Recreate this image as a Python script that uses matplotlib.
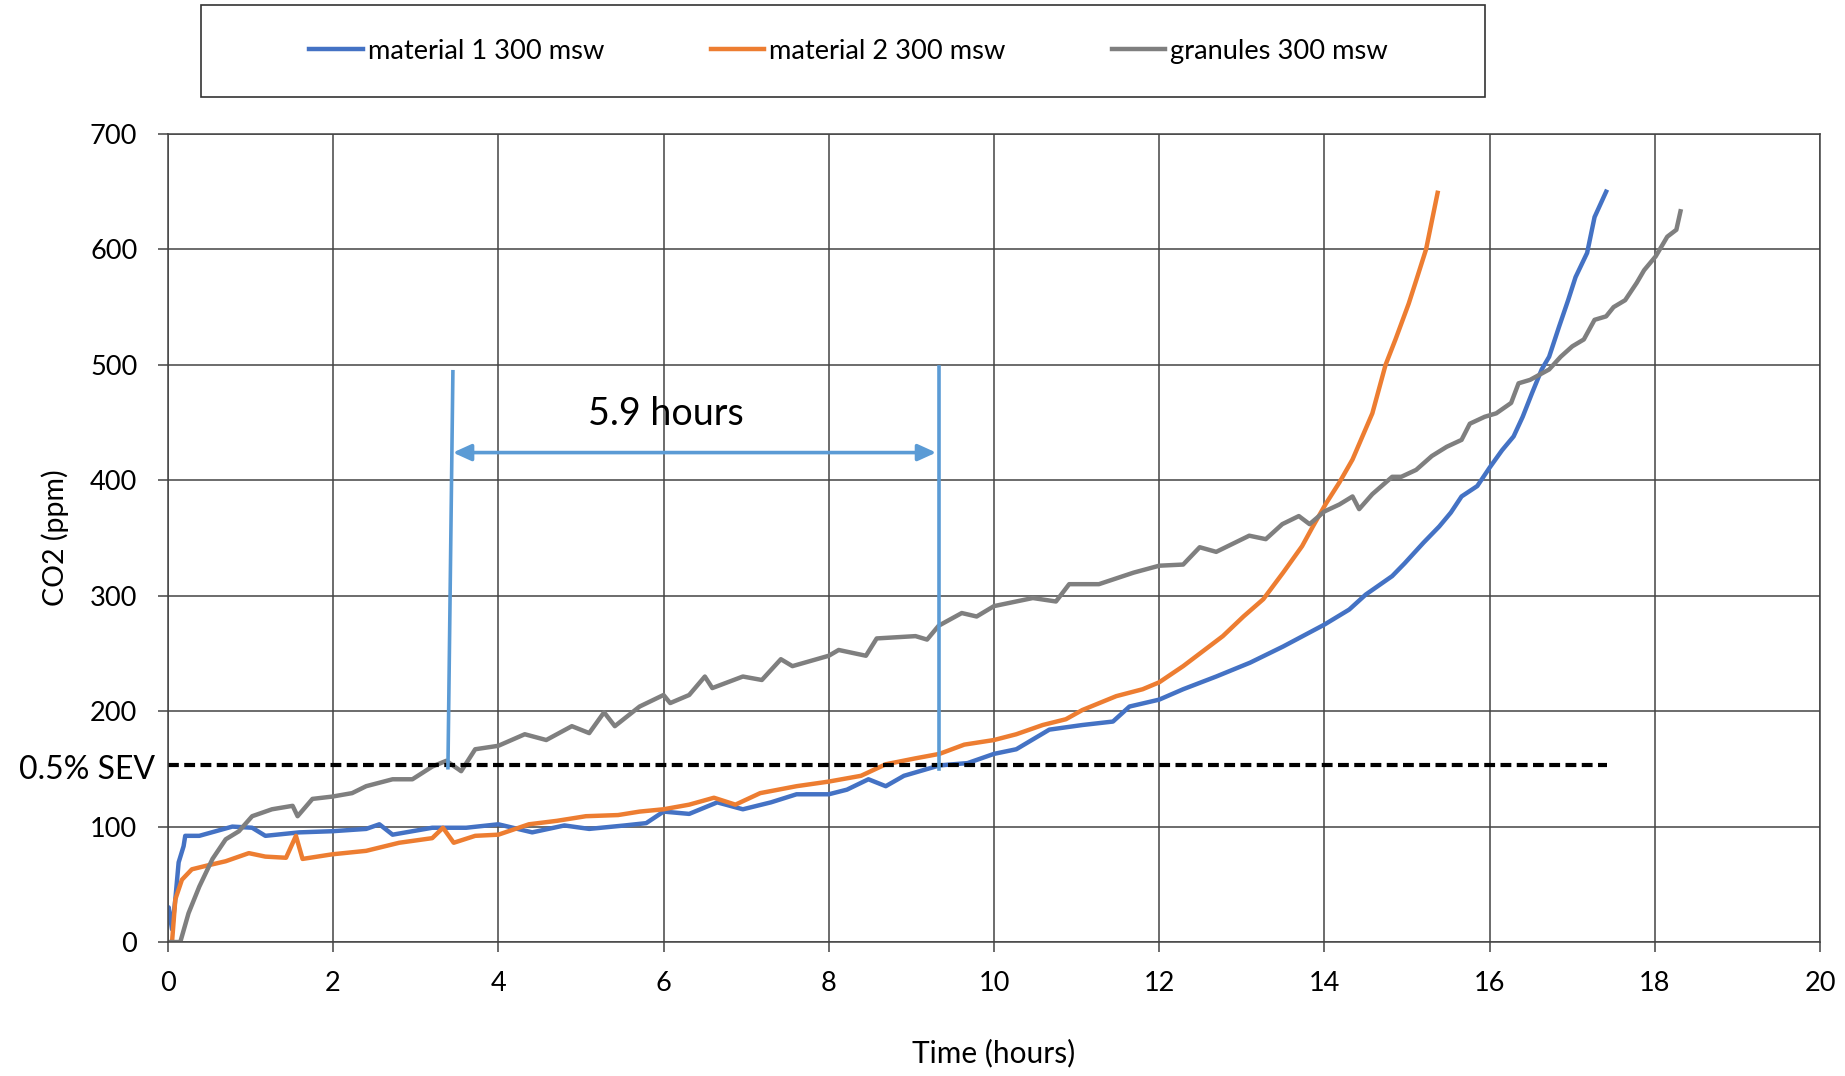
import matplotlib
matplotlib.use('Agg')
import matplotlib.pyplot as plt
from matplotlib.patches import Rectangle
import numpy as np

# material 1 300 msw (blue)
t_m1 = [0, 0.01, 0.05, 0.09, 0.13, 0.19, 0.21, 0.38, 0.58, 0.78, 1.02, 1.18, 1.59, 1.99, 2.40, 2.56,
        2.72, 3.20, 3.61, 4.0, 4.41, 4.80, 5.10, 5.53, 5.79, 6.0, 6.31, 6.65, 6.96, 7.30, 7.61, 8.0,
        8.22, 8.48, 8.69, 8.91, 9.34, 9.68, 10.0, 10.27, 10.67, 11.07, 11.44, 11.64, 12.0, 12.29,
        12.69, 13.10, 13.50, 14.0, 14.30, 14.50, 14.82, 14.97, 15.2, 15.39, 15.53, 15.66, 15.85,
        16.0, 16.15, 16.29, 16.40, 16.51, 16.63, 16.72, 16.84, 16.95, 17.04, 17.18, 17.27, 17.41]
co2_m1 = [22, 30, 11, 37, 69, 83, 92, 92, 96, 100, 99, 92, 95, 96, 98, 102,
          93, 99, 99, 102, 95, 101, 98, 101, 103, 113, 111, 121, 115, 121, 128, 128,
          132, 141, 135, 144, 153, 155, 163, 167, 184, 188, 191, 204, 210, 219,
          230, 242, 256, 275, 288, 301, 317, 328, 346, 360, 372, 386, 395,
          411, 426, 438, 455, 475, 496, 507, 533, 556, 576, 597, 628, 650]

# material 2 300 msw (orange)
t_m2 = [0.05, 0.09, 0.17, 0.29, 0.46, 0.70, 0.98, 1.18, 1.43, 1.55, 1.63, 1.99, 2.40, 2.80, 3.20,
        3.33, 3.46, 3.72, 4.0, 4.37, 4.71, 5.06, 5.45, 5.71, 6.0, 6.31, 6.61, 6.87, 7.17, 7.61,
        8.0, 8.39, 8.69, 9.04, 9.34, 9.64, 10.0, 10.27, 10.59, 10.87, 11.07, 11.48, 11.80, 12.0,
        12.29, 12.53, 12.77, 13.02, 13.26, 13.50, 13.73, 13.86, 14.02, 14.18, 14.34, 14.46,
        14.58, 14.74, 14.86, 15.02, 15.11, 15.23, 15.37]
co2_m2 = [0, 37, 54, 63, 66, 70, 77, 74, 73, 92, 72, 76, 79, 86, 90,
          99, 86, 92, 93, 102, 105, 109, 110, 113, 115, 119, 125, 119, 129, 135,
          139, 144, 154, 159, 163, 171, 175, 180, 188, 193, 201, 213, 219, 225,
          239, 252, 265, 282, 297, 320, 343, 360, 380, 398, 418, 438,
          458, 500, 522, 553, 573, 600, 649]

# granules 300 msw (grey)
t_gr = [0.0, 0.15, 0.25, 0.38, 0.54, 0.70, 0.86, 1.02, 1.26, 1.51, 1.57, 1.75, 1.99, 2.23, 2.40,
        2.72, 2.96, 3.20, 3.37, 3.55, 3.72, 4.0, 4.32, 4.58, 4.89, 5.10, 5.28, 5.41, 5.71, 6.0,
        6.08, 6.31, 6.50, 6.59, 6.96, 7.19, 7.42, 7.56, 8.0, 8.12, 8.45, 8.58, 9.05, 9.19, 9.33,
        9.61, 9.79, 10.0, 10.47, 10.75, 10.91, 11.27, 11.69, 12.0, 12.29, 12.49, 12.69, 12.89,
        13.09, 13.29, 13.49, 13.69, 13.82, 14.0, 14.18, 14.34, 14.42, 14.58, 14.82, 14.93, 15.11,
        15.30, 15.48, 15.66, 15.76, 15.94, 16.08, 16.26, 16.35, 16.49, 16.72, 16.86, 17.0, 17.14,
        17.27, 17.41, 17.50, 17.64, 17.78, 17.87, 18.01, 18.15, 18.26, 18.31]
co2_gr = [0, 0, 25, 48, 72, 89, 96, 109, 115, 118, 109, 124, 126, 129, 135,
          141, 141, 152, 157, 148, 167, 170, 180, 175, 187, 181, 199, 187, 204, 214,
          207, 214, 230, 220, 230, 227, 245, 239, 248, 253, 248, 263, 265, 262, 274,
          285, 282, 291, 298, 295, 310, 310, 320, 326, 327, 342, 338, 345,
          352, 349, 362, 369, 362, 373, 379, 386, 375, 388, 403, 403, 409,
          421, 429, 435, 449, 455, 458, 467, 484, 487, 496, 507, 516, 522,
          539, 542, 550, 556, 571, 582, 594, 611, 617, 633]

series_names = ["material 1 300 msw", "material 2 300 msw", "granules 300 msw"]
series_colors = ['#4472C4', '#ED7D31', '#7F7F7F']

# threshold and the 5.9 hour span
sev_level = 153
sev_end = 17.42
span_left_x = [3.45, 3.39]
span_left_y = [494, 151]
span_right_x = [9.34, 9.34]
span_right_y = [498, 150]
span_arrow_y = 424
span_label = "5.9 hours"
span_label_pos = (6.03, 457)

plt.rcParams['font.family'] = ['Lato', 'DejaVu Sans']

fig = plt.figure(figsize=(18.45, 10.76), dpi=100)
ax = fig.add_axes([0.091, 0.1245, 0.8955, 0.751])

for t, v, name, c in zip([t_m1, t_m2, t_gr], [co2_m1, co2_m2, co2_gr], series_names, series_colors):
    ax.plot(t, v, color=c, lw=3.2, label=name, solid_joinstyle='round')

ax.plot([0, sev_end], [sev_level, sev_level], color='black', lw=3, dashes=(2.6, 1.3))
ax.annotate("0.5% SEV", xy=(0, sev_level), xytext=(-9, -3), textcoords='offset points',
            ha='right', va='center', fontsize=23, annotation_clip=False)

span_c = '#5B9BD5'
ax.plot(span_left_x, span_left_y, color=span_c, lw=2.6)
ax.plot(span_right_x, span_right_y, color=span_c, lw=2.6)
ax.annotate('', xy=(span_left_x[0], span_arrow_y), xytext=(span_right_x[0] - 0.04, span_arrow_y),
            arrowprops=dict(arrowstyle='<|-|>,head_length=1.1,head_width=0.5', color=span_c,
                            lw=2.6, shrinkA=0, shrinkB=0))
ax.text(span_label_pos[0], span_label_pos[1], span_label, ha='center', va='center', fontsize=27)

ax.set_xlim(0, 20)
ax.set_ylim(0, 700)
ax.set_xticks(np.arange(0, 21, 2))
ax.set_yticks(np.arange(0, 701, 100))
ax.grid(True, color='#444444', lw=1.1)
ax.set_axisbelow(True)
for s in ax.spines.values():
    s.set_color('#444444')
    s.set_linewidth(1.1)
ax.tick_params(axis='both', length=7, width=1.1, color='#444444', labelsize=19.5)
ax.tick_params(axis='y', pad=15)
ax.tick_params(axis='x', pad=14)
ax.set_xlabel("Time (hours)", fontsize=21.5, labelpad=31)
ax.set_ylabel("CO2 (ppm)", fontsize=20.5, labelpad=15)

# legend box on top
fig.patches.append(Rectangle((0.109, 0.91), 0.696, 0.085, transform=fig.transFigure,
                             facecolor='white', edgecolor='#333333', lw=1.2))
handles, labels = ax.get_legend_handles_labels()
fig.legend(handles, labels, loc='center', bbox_to_anchor=(0.109 + 0.696 / 2 + 0.003, 0.9525), ncol=3,
           frameon=False, fontsize=19.6, handlelength=1.95, handletextpad=0.2, columnspacing=3.9)

fig.savefig('out.png', dpi=100)
